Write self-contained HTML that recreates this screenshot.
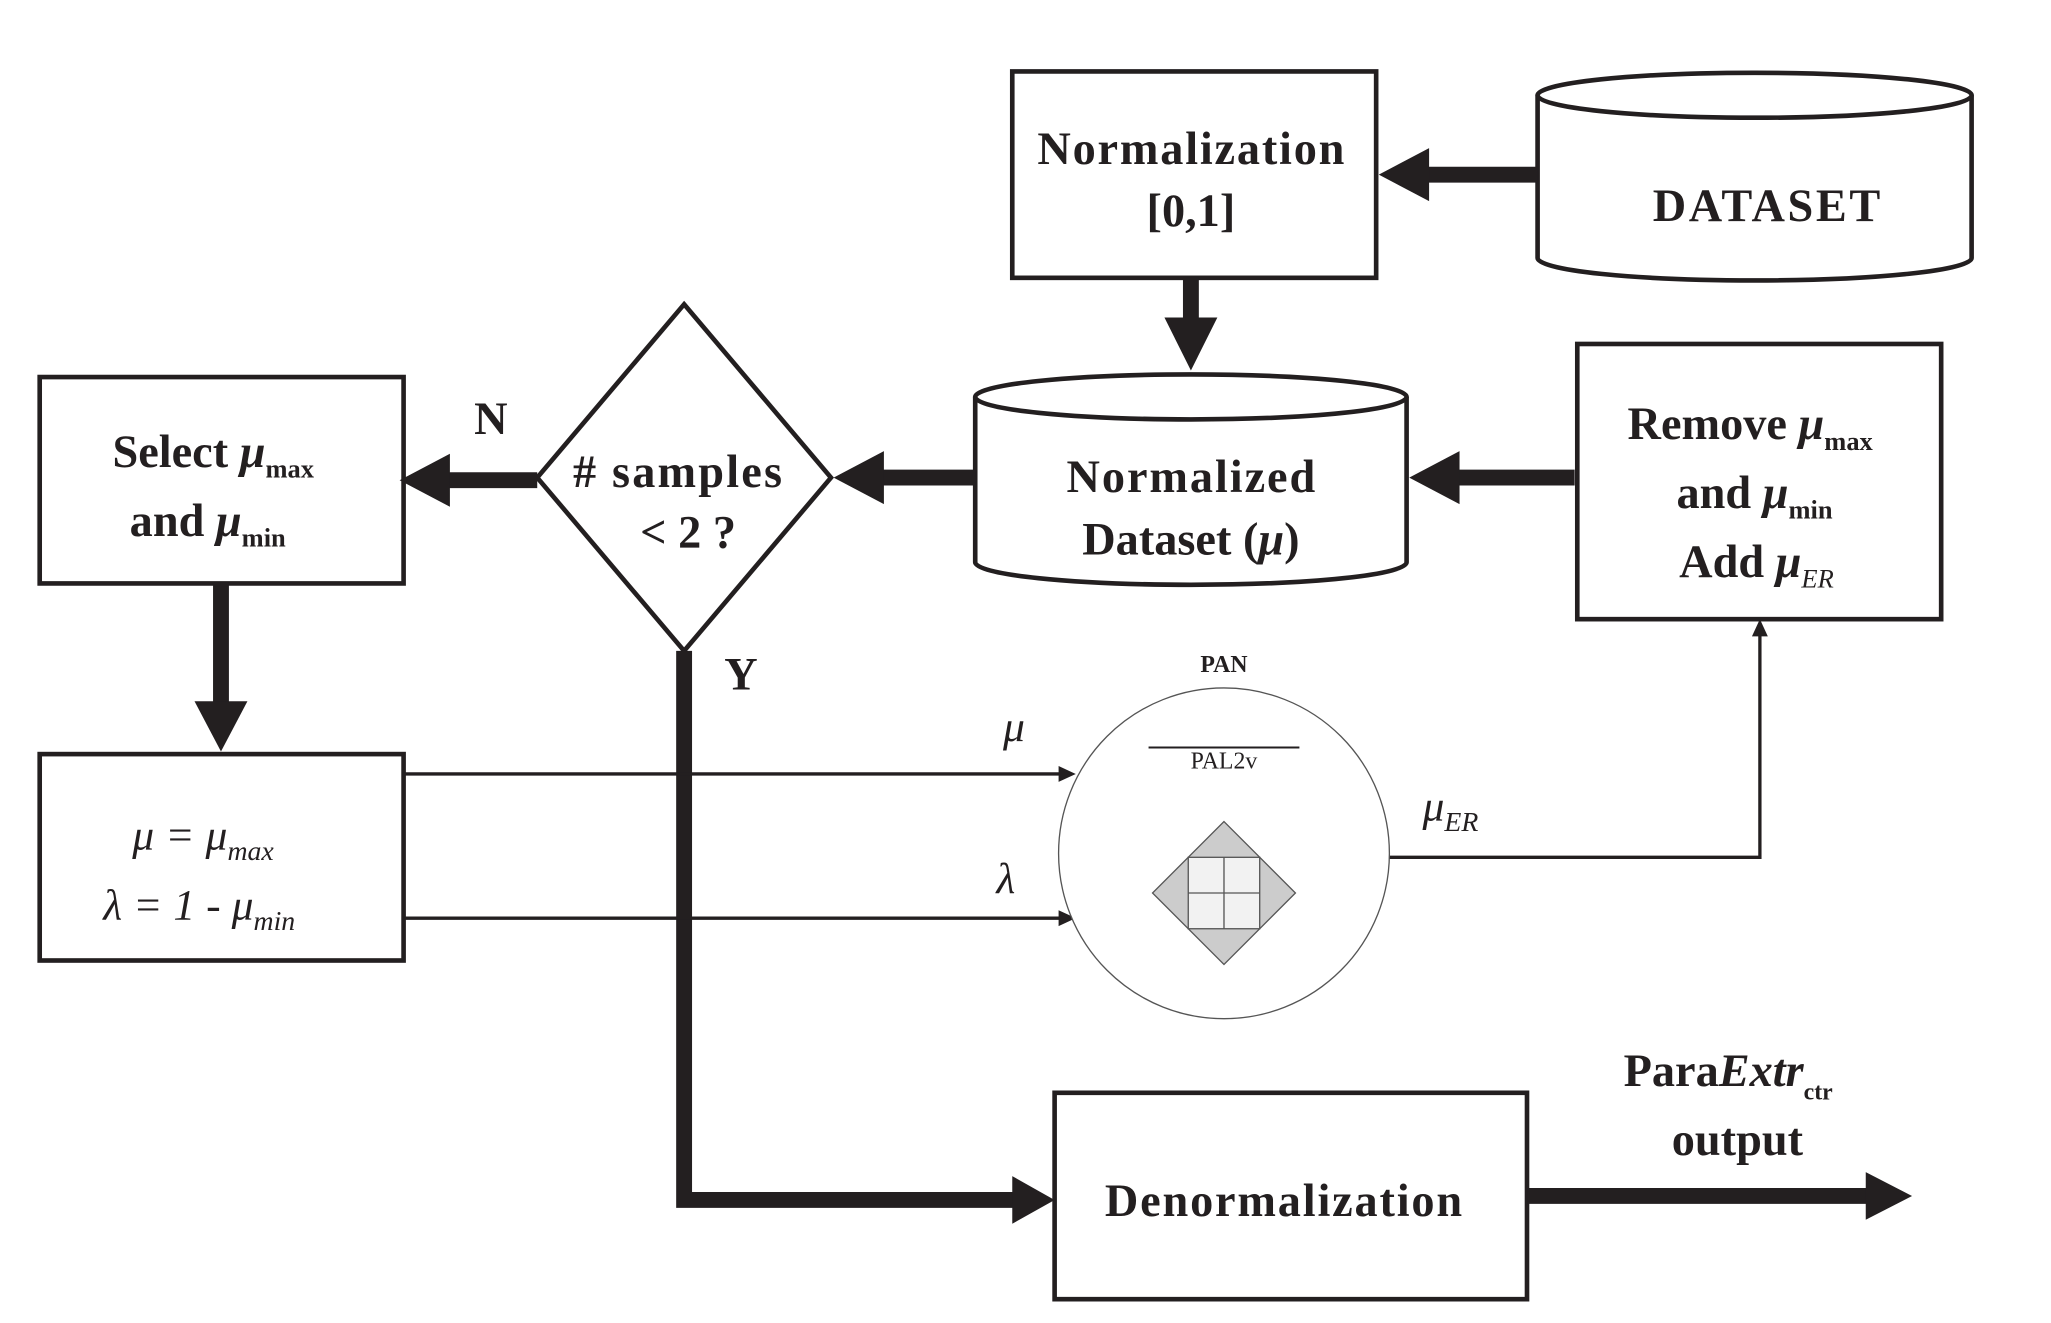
<!DOCTYPE html>
<html><head><style>html,body{margin:0;padding:0;background:#fff}svg{display:block}</style></head><body>
<svg width="2051" height="1323" viewBox="0 0 1550 1000" preserveAspectRatio="none" xmlns="http://www.w3.org/2000/svg" font-family="Liberation Serif, serif" font-weight="bold" fill="#231f20">
<g stroke="#231f20" stroke-width="3.5" fill="#fff">
<rect x="765" y="54" width="275" height="156"/>
<rect x="1192" y="260" width="275" height="208"/>
<rect x="30" y="285" width="275" height="156"/>
<rect x="30" y="570" width="275" height="156"/>
<rect x="797" y="826" width="357" height="156"/>
<path d="M1162,72 L1162,195 A164,17 0 0 0 1490,195 L1490,72"/>
<ellipse cx="1326" cy="72" rx="164" ry="17"/>
<path d="M737,300 L737,425 A163,17 0 0 0 1063,425 L1063,300"/>
<ellipse cx="900" cy="300" rx="163" ry="17"/>
<polygon points="517,230 628,361 517,492 406,361"/>
</g>
<g stroke="#231f20" stroke-width="12" fill="none">
<line x1="1162" y1="132" x2="1075" y2="132"/>
<line x1="900" y1="210" x2="900" y2="245"/>
<line x1="1190" y1="361" x2="1098" y2="361"/>
<line x1="737" y1="361" x2="663" y2="361"/>
<line x1="406" y1="363" x2="335" y2="363"/>
<line x1="167" y1="441" x2="167" y2="535"/>
<polyline points="517,492 517,907 770,907"/>
<line x1="1154" y1="904" x2="1412" y2="904"/>
</g>
<g fill="#231f20">
<polygon points="1042,132 1080,112 1080,152"/>
<polygon points="900,280 880,240 920,240"/>
<polygon points="1065,361 1103,341 1103,381"/>
<polygon points="630,361 668,341 668,381"/>
<polygon points="302,363 340,343 340,383"/>
<polygon points="167,568 147,530 187,530"/>
<polygon points="797,907 765,889 765,925"/>
<polygon points="1445,904 1410,886 1410,922"/>
</g>
<g stroke="#231f20" stroke-width="2.5" fill="none">
<line x1="305" y1="585" x2="805" y2="585"/>
<line x1="305" y1="694" x2="805" y2="694"/>
<polyline points="1050,648 1330,648 1330,478"/>
</g>
<g fill="#231f20">
<polygon points="813,585 800,579 800,591"/>
<polygon points="813,694 800,688 800,700"/>
<polygon points="1330,468 1324,481 1336,481"/>
</g>
<circle cx="925" cy="645" r="125" fill="#fff" stroke="#555" stroke-width="1"/>
<line x1="868" y1="565" x2="982" y2="565" stroke="#231f20" stroke-width="1.5"/>
<g stroke="#555" stroke-width="1">
<polygon points="925,621 979,675 925,729 871,675" fill="#ccc"/>
<rect x="898" y="648" width="54" height="54" fill="#f2f2f2"/>
<line x1="925" y1="648" x2="925" y2="702"/><line x1="898" y1="675" x2="952" y2="675"/>
</g>
<g text-anchor="middle" font-size="35">
<text x="900" y="124" textLength="232">Normalization</text>
<text x="900" y="171">[0,1]</text>
<text x="1335" y="167" textLength="172">DATASET</text>
<text x="900" y="372" textLength="188">Normalized</text>
<text x="900" y="419">Dataset (<tspan font-style="italic">μ</tspan>)</text>
<text x="512" y="368" textLength="158"># samples</text>
<text x="520" y="414">&lt; 2 ?</text>
<text x="371" y="328">N</text>
<text x="560" y="521">Y</text>
<text x="970" y="919" textLength="270">Denormalization</text>
<text x="1313" y="873">output</text>
</g>
<g font-size="35">
<text x="85" y="353">Select <tspan font-style="italic">μ</tspan><tspan font-size="20" dy="8">max</tspan></text>
<text x="98" y="405">and <tspan font-style="italic">μ</tspan><tspan font-size="20" dy="8">min</tspan></text>
<text x="1230" y="332">Remove <tspan font-style="italic">μ</tspan><tspan font-size="20" dy="8">max</tspan></text>
<text x="1267" y="384">and <tspan font-style="italic">μ</tspan><tspan font-size="20" dy="8">min</tspan></text>
<text x="1269" y="436">Add <tspan font-style="italic">μ</tspan><tspan font-size="20" font-style="italic" font-weight="normal" dy="8">ER</tspan></text>
<text x="1227" y="821">Para<tspan font-style="italic">Extr</tspan><tspan font-size="18" dy="10">ctr</tspan></text>
</g>
<g font-size="33" font-weight="normal" font-style="italic">
<text x="100" y="642">μ = μ<tspan font-size="21" dy="8">max</tspan></text>
<text x="78" y="695">λ = 1 - μ<tspan font-size="21" dy="8">min</tspan></text>
<text x="758" y="560">μ</text>
<text x="753" y="675">λ</text>
<text x="1075" y="620">μ<tspan font-size="21" dy="8">ER</tspan></text>
</g>
<g text-anchor="middle" font-size="18">
<text x="925" y="508">PAN</text>
<text x="925" y="581" font-weight="normal">PAL2v</text>
</g>
</svg>
</body></html>
